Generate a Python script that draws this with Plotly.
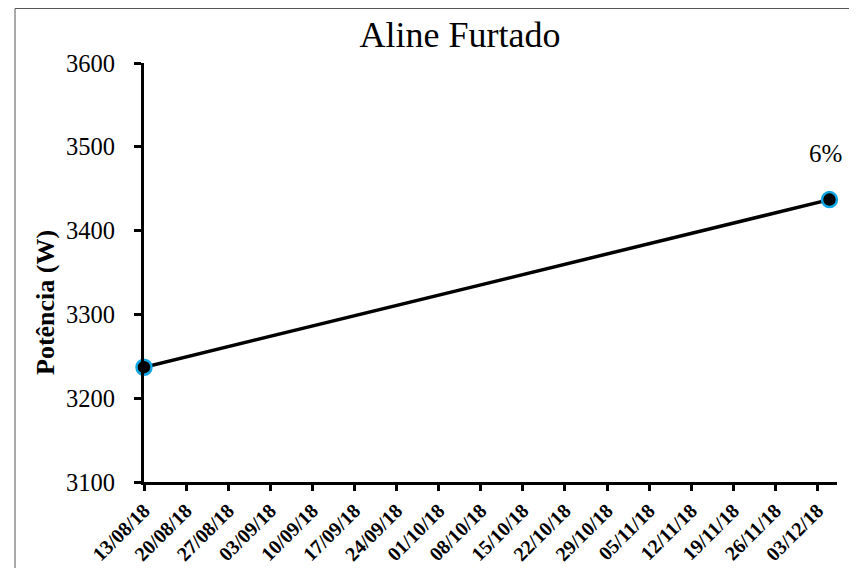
import plotly.graph_objects as go

# Data
dates = ["2018-08-13", "2018-12-05"]
power_w = [3237, 3437]
point_labels = ["", "6%"]
title_text = "Aline Furtado"
y_title = "Potência (W)"
y_ticks = [3100, 3200, 3300, 3400, 3500, 3600]
x_range = ["2018-08-13", "2018-12-06 06:00"]

OFF = 8  # page body margin
W, H = 857 - OFF, 568 - OFF
L, R, T, B = 144 - OFF, 20, 63 - OFF, 86
pw, ph = W - L - R, H - T - B


def px(page_x):
    return (page_x - OFF - L) / pw


def py(page_y):
    return 1 - (page_y - OFF - T) / ph


fig = go.Figure()
fig.add_trace(go.Scatter(
    x=dates, y=power_w, mode="lines+markers",
    line=dict(color="black", width=3.5),
    marker=dict(size=15, color="black", line=dict(color="#12A5E3", width=2.5)),
    cliponaxis=False, showlegend=False,
))
for xd, yv, lab in zip(dates, power_w, point_labels):
    if lab:
        fig.add_annotation(x=xd, y=yv, text=lab, showarrow=False,
                           xshift=-4, yshift=46,
                           font=dict(family="Liberation Serif", size=25, color="black"))

# y-axis title (positioned like the original, below plot centre)
fig.add_annotation(xref="paper", yref="paper", x=px(45), y=py(303),
                   text="<b>" + y_title + "</b>", textangle=-90, showarrow=False,
                   xanchor="center", yanchor="middle",
                   font=dict(family="Liberation Serif", size=26, color="black"))

fig.update_layout(
    width=W, height=H,
    margin=dict(l=L, r=R, t=T, b=B, autoexpand=False),
    paper_bgcolor="white", plot_bgcolor="white",
    title=dict(text=title_text, x=(460 - OFF) / W, xanchor="center",
               y=1 - (34 - OFF) / H, yanchor="middle",
               font=dict(family="Liberation Serif", size=36, color="black")),
    font=dict(family="Liberation Serif", color="black"),
)
fig.update_xaxes(
    range=x_range, type="date", automargin=False,
    tick0="2018-08-13", dtick=7 * 86400000, tickformat="%d/%m/%y",
    tickangle=-45, tickfont=dict(family="Liberation Serif", size=20, color="black", weight="bold"),
    showline=True, linecolor="black", linewidth=3,
    ticks="outside", ticklen=6, tickwidth=2.5, tickcolor="black",
    showgrid=False, zeroline=False,
)
fig.update_yaxes(
    range=[3100, 3600], tickvals=y_ticks, automargin=False,
    tickfont=dict(family="Liberation Serif", size=24.5, color="black"),
    showline=True, linecolor="black", linewidth=3,
    ticks="outside", ticklen=7, tickwidth=2.5, tickcolor="black",
    ticklabelstandoff=14,
    showgrid=False, zeroline=False,
)
# outer chart border
fig.add_shape(type="rect", xref="paper", yref="paper",
              x0=px(15), x1=px(870), y0=py(580), y1=py(OFF + 0.5),
              line=dict(color="#555555", width=1), fillcolor="rgba(0,0,0,0)", layer="below")

fig.write_html("out.html")
